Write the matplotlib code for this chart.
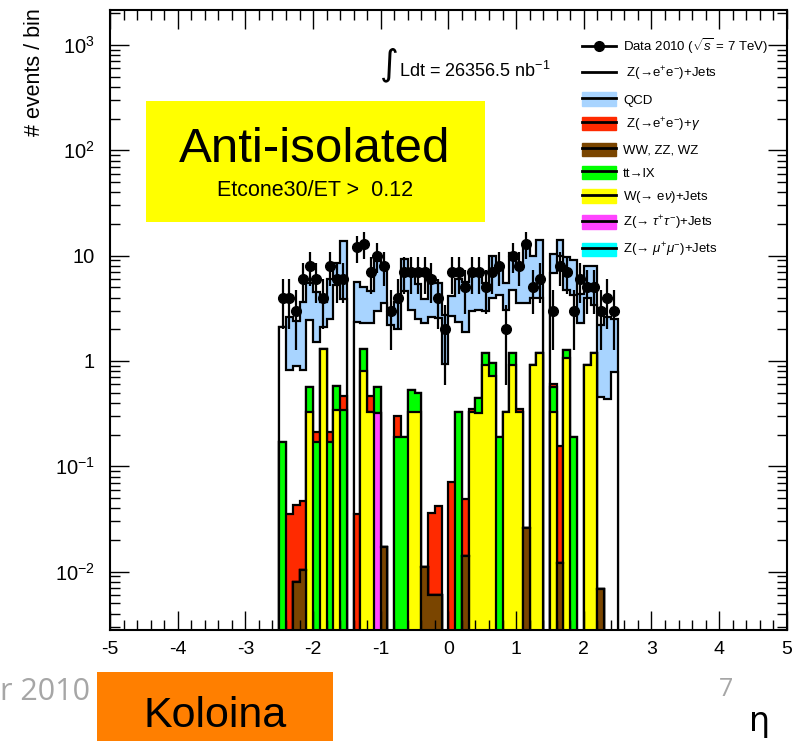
import numpy as np
import matplotlib
matplotlib.use("Agg")
import matplotlib.pyplot as plt
from matplotlib.patches import Patch, Rectangle
from matplotlib.lines import Line2D
from matplotlib.ticker import FixedLocator, MultipleLocator, NullFormatter

plt.rcParams["font.family"] = ["Liberation Sans", "DejaVu Sans"]
plt.rcParams["mathtext.fontset"] = "custom"
plt.rcParams["mathtext.rm"] = "Liberation Sans"
plt.rcParams["mathtext.it"] = "Liberation Sans:italic"
plt.rcParams["mathtext.sf"] = "Liberation Sans"
plt.rcParams["axes.unicode_minus"] = False

# electron eta, 50 bins of 0.1 between -2.5 and 2.5
eta_edges = np.linspace(-2.5, 2.5, 51)

ww = [0, 0, 0.008, 0.0104, 0, 0, 0, 0, 0, 0,
      0, 0, 0, 0, 0, 0.017, 0, 0, 0, 0,
      0, 0.011, 0.006, 0.006, 0, 0, 0, 0.014, 0, 0,
      0, 0, 0, 0, 0, 0, 0.026, 0, 0, 0,
      0, 0.012, 0, 0, 0, 0, 0, 0.0068, 0, 0]
ztautau = [0, 0, 0, 0, 0, 0, 0, 0, 0, 0,
           0, 0, 0, 0, 0.32, 0, 0, 0, 0, 0,
           0, 0, 0, 0, 0, 0, 0, 0, 0, 0,
           0, 0, 0, 0, 0, 0, 0, 0, 0, 0,
           0, 0, 0, 0, 0, 0, 0, 0, 0, 0]
wenu = [0, 0, 0, 0, 0.33, 0, 1.3, 0, 0.34, 0,
        0, 0, 0.8, 0.33, 0, 0, 0, 0, 0, 0.33,
        0.33, 0, 0, 0, 0, 0, 0, 0, 0.33, 0.32,
        0.92, 0.72, 0, 0.33, 0.92, 0.33, 0, 0.92, 1.2, 0,
        0.33, 0, 1.06, 0, 0, 0.92, 1.2, 0, 0, 0]
ttbar = [0.17, 0, 0, 0, 0.24, 0.17, 0, 0.17, 0.24, 0.34,
         0, 0, 0.5, 0, 0.25, 0, 0, 0.19, 0.19, 0.2,
         0.17, 0, 0, 0, 0, 0, 0.33, 0, 0, 0.13,
         0.28, 0.23, 0.19, 0, 0.28, 0, 0, 0, 0, 0,
         0.24, 0, 0.2, 0.19, 0, 0, 0, 0, 0, 0]
zgamma = [0, 0.035, 0.035, 0.036, 0, 0.04, 0, 0.04, 0, 0.12,
          0, 0.035, 0, 0.14, 0, 0, 0, 0.11, 0, 0,
          0, 0, 0.03, 0.036, 0, 0.071, 0, 0.035, 0.02, 0,
          0, 0, 0, 0, 0, 0.02, 0, 0, 0, 0,
          0.04, 0.143, 0, 0, 0, 0, 0, 0, 0, 0]
zee = [1.93, 0.785, 0.86, 0.77, 1.9, 1.3, 0.8, 2.3, 4.7, 3.4,
       0, 2.3, 1.0, 1.8, 2.4, 3.5, 2.2, 1.7, 4.4, 2.5,
       2.0, 2.3, 2.6, 2.5, 0.93, 2.6, 2.0, 1.85, 2.6, 2.6,
       1.8, 3.0, 4.0, 2.7, 3.5, 3.2, 3.5, 3.0, 2.8, 0,
       6.3, 9.8, 3.5, 4.0, 2.3, 3.0, 2.2, 0.45, 0.44, 0.78]
qcd = [0, 1.78, 1.5, 2.8, 3.0, 3.0, 1.5, 3.5, 3.2, 10,
       0, 3.3, 2.7, 2.3, 6.0, 4.0, 1.0, 1.6, 4.7, 4.0,
       2.9, 1.6, 3.7, 2.9, 1.8, 1.5, 3.7, 3.7, 3.5, 3.5,
       2.5, 6.0, 4.0, 2.5, 6.0, 4.5, 8.5, 6.0, 10, 0,
       3.4, 4.0, 5.0, 5.0, 2.0, 4.0, 4.6, 1.75, 2.2, 1.7]
data = [4, 4, 3, 6, 8, 6, 4, 8, 6, 6,
        0, 12, 13, 7, 10, 8, 3, 4, 7, 7,
        7, 7, 6, 4, 2, 7, 7, 5, 7, 7,
        5, 7, 8, 2, 10, 8, 13, 5, 6, 0,
        3, 8, 7, 3, 6, 5, 5, 3, 4, 3]

# stack order, bottom to top
layers = [ww, ztautau, wenu, ttbar, zgamma, zee, qcd]
colors = ["#7a4500", "#ff44ff", "#ffff00", "#00ff00", "#ff2a00", "#ffffff", "#a8d4ff"]

fig = plt.figure(figsize=(8, 7.41), dpi=100)
ax = fig.add_axes([0.1375, 0.150, 0.846, 0.8365])
ax.set_yscale("log")

cum = np.cumsum(np.array(layers, dtype=float), axis=0)
for k in range(len(layers) - 1, -1, -1):
    vals = np.maximum(cum[k], 1e-7)
    ax.stairs(vals, eta_edges, baseline=1e-7, fill=True,
              facecolor=colors[k], edgecolor="black", linewidth=1.6)

centers = 0.5 * (eta_edges[:-1] + eta_edges[1:])
d = np.array(data, dtype=float)
m = d > 0
ax.errorbar(centers[m], d[m], yerr=np.sqrt(d[m]), xerr=0.05, fmt="o",
            color="black", ms=7, elinewidth=1.6, capsize=0)

ax.set_xlim(-5, 5)
ax.set_ylim(0.0028, 2150)

ax.xaxis.set_major_locator(MultipleLocator(1))
ax.xaxis.set_minor_locator(MultipleLocator(0.2))
ax.yaxis.set_major_locator(FixedLocator([1e-2, 1e-1, 1, 10, 100, 1000]))
ax.set_yticklabels([r"$10^{-2}$", r"$10^{-1}$", "1", "10", r"$10^{2}$", r"$10^{3}$"])
minor = [s * 10.0 ** e for e in range(-3, 4) for s in range(2, 10)]
ax.yaxis.set_minor_locator(FixedLocator(minor))
ax.yaxis.set_minor_formatter(NullFormatter())
ax.tick_params(which="both", direction="in", top=True, right=True, width=1.0)
ax.tick_params(which="major", length=14)
ax.tick_params(which="minor", length=7)
ax.tick_params(axis="x", labelsize=14, pad=8)
ax.tick_params(axis="y", labelsize=14.5, pad=11)
for s in ax.spines.values():
    s.set_linewidth(1.5)

fig.text(35 / 800, 1 - 8 / 741, "# events / bin", rotation=90,
         ha="center", va="top", fontsize=15.5)

# luminosity
fig.text(380 / 800, 1 - 65 / 741, "\u222b", fontsize=26, ha="left",
         va="center", family="DejaVu Sans")
fig.text(399 / 800, 1 - 77 / 741, r"Ldt = 26356.5 nb$^{-1}$", fontsize=13,
         ha="left", va="baseline")

# selection box
fig.patches.append(Rectangle((146 / 800, 1 - 222 / 741), 339 / 800, 121 / 741,
                             transform=fig.transFigure, facecolor="#ffff00",
                             edgecolor="none", zorder=5))
fig.text(315 / 800, 1 - 162 / 741, "Anti-isolated", fontsize=35.5,
         ha="center", va="baseline", zorder=6)
fig.text(315 / 800, 1 - 196 / 741, "Etcone30/ET >  0.12", fontsize=15.5,
         ha="center", va="baseline", zorder=6)

handles = [
    Line2D([], [], color="black", lw=2, marker="o", ms=7),
    Line2D([], [], color="black", lw=2),
]
labels = [r"Data 2010 ($\sqrt{s}$ = 7 TeV)", " Z(\u2192e$^{+}$e$^{-}$)+Jets"]
entries = [
    ("#a8d4ff", "QCD"),
    ("#ff2a00", " Z(\u2192e$^{+}$e$^{-}$)+$\\gamma$"),
    ("#7a4500", "WW, ZZ, WZ"),
    ("#00ff00", "tt\u2192lX"),
    ("#ffff00", "W(\u2192 e$\\nu$)+Jets"),
    ("#ff44ff", "Z(\u2192 $\\tau^{+}\\tau^{-}$)+Jets"),
    ("#00ffff", "Z(\u2192 $\\mu^{+}\\mu^{-}$)+Jets"),
]
for c, lab in entries:
    handles.append((Patch(facecolor=c, edgecolor=c), Line2D([], [], color="black", lw=2)))
    labels.append(lab)
leg = ax.legend(handles, labels, loc="upper left",
                bbox_to_anchor=(575 / 800, 1 - 30 / 741),
                bbox_transform=fig.transFigure, frameon=False, fontsize=9.5,
                handlelength=2.6, handleheight=1.2, labelspacing=0.68,
                handletextpad=0.55, borderpad=0)

# slide footer
fig.text(0, 1 - 692 / 741, "r 2010", fontsize=22, color="#a6a6a6",
         ha="left", va="center", family="Open Sans")
fig.patches.append(Rectangle((97 / 800, 0), 236 / 800, 69 / 741,
                             transform=fig.transFigure, facecolor="#ff7f00",
                             edgecolor="none"))
fig.text(215 / 800, 1 - 727 / 741, "Koloina", fontsize=31, ha="center",
         va="baseline")
fig.text(726 / 800, 1 - 690 / 741, "7", fontsize=18, color="#a6a6a6",
         ha="center", va="center", family="Open Sans")
fig.text(760 / 800, 1 - 722 / 741, "\u03b7", fontsize=24, ha="center",
         va="center", family="DejaVu Sans")

fig.savefig("out.png", dpi=100)
